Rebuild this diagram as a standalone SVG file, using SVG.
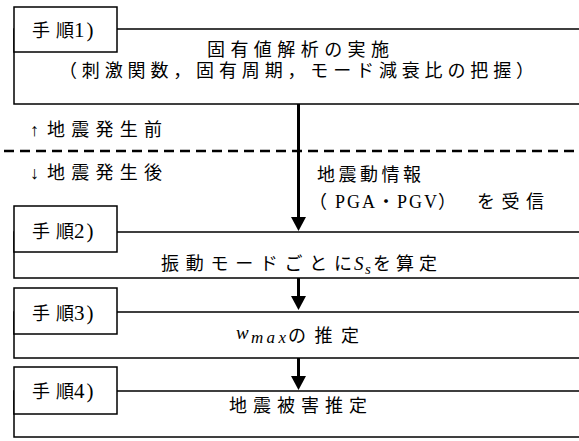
<svg xmlns="http://www.w3.org/2000/svg" width="579" height="441" viewBox="0 0 579 441">
<style>
.box{fill:#fff;stroke:#000;stroke-width:1.5}
.t{font-family:"Liberation Serif","Noto Sans CJK JP",serif;font-size:18px;fill:#000}
.n{font-family:"Liberation Serif","Noto Sans CJK JP",serif;font-size:21px;fill:#000;letter-spacing:2px}
.m{font-family:"Liberation Serif","DejaVu Serif",serif;font-style:italic;fill:#000}
.conn{stroke:#000;stroke-width:3;fill:none}
.div{stroke:#000;stroke-width:2.5;stroke-dasharray:10 6;fill:none}
</style>
<defs>
<marker id="ah" viewBox="0 0 14 15" refX="10" refY="7.5" markerWidth="14" markerHeight="15" markerUnits="userSpaceOnUse" orient="auto">
<path d="M0,0 L14,7.5 L0,15 Z" fill="#000"/>
</marker>
</defs>
<rect width="579" height="441" fill="#fff"/>

<g id="divider">
<line class="div" x1="4" y1="151" x2="579" y2="151"/>
</g>

<g id="step1">
<rect class="box" x="14" y="29" width="590" height="75"/>
<rect class="box" x="14" y="7" width="103" height="45"/>
<text class="t" x="32" y="37" textLength="42" lengthAdjust="spacing">手順</text>
<text class="n" x="74" y="37">1)</text>
<text class="t" x="207" y="56" textLength="182" lengthAdjust="spacing">固有値解析の実施</text>
<text class="t" x="59" y="77" textLength="475" lengthAdjust="spacing">（刺激関数，固有周期，モード減衰比の把握）</text>
</g>

<g id="label-before">
<text class="t" x="30" y="136">↑</text>
<text class="t" x="47" y="136" textLength="115" lengthAdjust="spacing">地震発生前</text>
</g>
<g id="label-after">
<text class="t" x="30" y="179">↓</text>
<text class="t" x="47" y="179" textLength="115" lengthAdjust="spacing">地震発生後</text>
</g>

<g id="info">
<text class="t" x="317" y="181" textLength="104" lengthAdjust="spacing">地震動情報</text>
<text class="t" x="309" y="208">（</text>
<text class="t" x="335" y="208" textLength="102" lengthAdjust="spacing">PGA・PGV</text>
<text class="t" x="438" y="208">）</text>
<text class="t" x="477" y="208" textLength="67" lengthAdjust="spacing">を受信</text>
</g>

<g id="step2">
<rect class="box" x="14" y="232" width="590" height="46"/>
<rect class="box" x="14" y="206" width="103" height="46"/>
<text class="t" x="32" y="238" textLength="42" lengthAdjust="spacing">手順</text>
<text class="n" x="74" y="238">2)</text>
<text class="t" x="161" y="270" textLength="191" lengthAdjust="spacing">振動モードごとに</text>
<text class="m" x="354" y="270" font-size="19">S</text>
<text class="m" x="365" y="274" font-size="15">s</text>
<text class="t" x="373" y="270" textLength="64" lengthAdjust="spacing">を算定</text>
</g>

<g id="step3">
<rect class="box" x="14" y="312" width="590" height="46"/>
<rect class="box" x="14" y="288" width="103" height="46"/>
<text class="t" x="32" y="320" textLength="42" lengthAdjust="spacing">手順</text>
<text class="n" x="74" y="320">3)</text>
<text class="m" x="236" y="339" font-size="19">w</text>
<text class="m" x="251" y="343" font-size="17" textLength="35" lengthAdjust="spacing">max</text>
<text class="t" x="288" y="342" textLength="71" lengthAdjust="spacing">の推定</text>
</g>

<g id="step4">
<rect class="box" x="14" y="391" width="590" height="46"/>
<rect class="box" x="14" y="367" width="103" height="47"/>
<text class="t" x="32" y="398" textLength="42" lengthAdjust="spacing">手順</text>
<text class="n" x="74" y="398">4)</text>
<text class="t" x="229" y="412" textLength="138" lengthAdjust="spacing">地震被害推定</text>
</g>

<g id="connectors">
<line class="conn" x1="298.5" y1="104" x2="298.5" y2="227" marker-end="url(#ah)"/>
<line class="conn" x1="298.5" y1="278" x2="298.5" y2="306" marker-end="url(#ah)"/>
<line class="conn" x1="298.5" y1="358" x2="298.5" y2="386" marker-end="url(#ah)"/>
</g>
</svg>
